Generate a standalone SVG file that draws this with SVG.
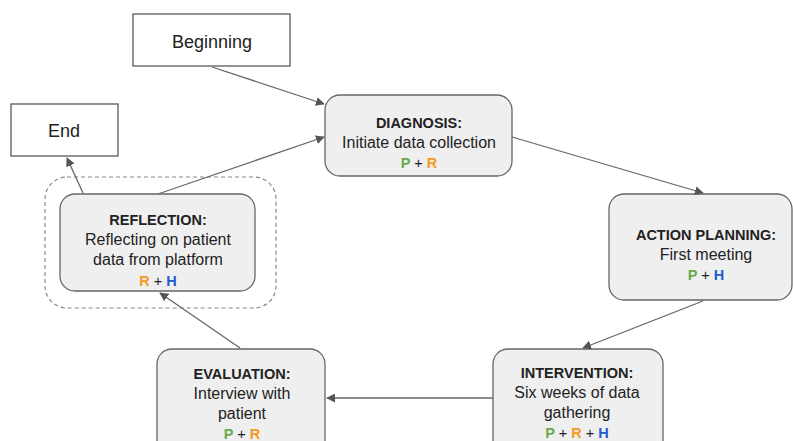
<svg xmlns="http://www.w3.org/2000/svg" width="793" height="441" viewBox="0 0 793 441">
<style>
.plain{fill:#fff;stroke:#595959;stroke-width:1.3}
.step{fill:#efefef;stroke:#666;stroke-width:1.3}
.lbl{font-family:"Liberation Sans",Arial,sans-serif;font-size:18px;fill:#222;text-anchor:middle}
.t{font-family:"Liberation Sans",Arial,sans-serif;font-size:16px;fill:#222;text-anchor:middle}
.b{font-weight:bold;font-size:14.5px}
.k{font-size:14.5px}
.P{fill:#6aa84f;font-weight:bold}
.R{fill:#f59a23;font-weight:bold}
.H{fill:#1f5bd1;font-weight:bold}
.conn line{stroke:#666;stroke-width:1.3;marker-end:url(#ah)}
</style>
<defs>
<marker id="ah" viewBox="0 0 10 10" refX="9" refY="5" markerWidth="9" markerHeight="9" markerUnits="userSpaceOnUse" orient="auto">
<path d="M0,0 L10,5 L0,10 z" fill="#555"/>
</marker>
</defs>
<rect width="793" height="441" fill="#fff"/>
<g id="group-reflection">
<rect x="45" y="177" width="231" height="131" rx="22" fill="none" stroke="#888" stroke-width="1.2" stroke-dasharray="4 3"/>
</g>
<g id="beginning">
<rect class="plain" x="133" y="14" width="157" height="52"/>
<text class="lbl" x="212" y="48">Beginning</text>
</g>
<g id="end">
<rect class="plain" x="11" y="104" width="107" height="52"/>
<text class="lbl" x="64" y="137">End</text>
</g>
<g id="diagnosis">
<rect class="step" x="325" y="95" width="187" height="81" rx="15"/>
<text class="t b" x="419" y="128">DIAGNOSIS:</text>
<text class="t" x="419" y="148">Initiate data collection</text>
<text class="t k" x="419" y="168"><tspan class="P">P</tspan> + <tspan class="R">R</tspan></text>
</g>
<g id="action-planning">
<rect class="step" x="609" y="194" width="183" height="106" rx="15"/>
<text class="t b" x="706" y="240">ACTION PLANNING:</text>
<text class="t" x="706" y="260">First meeting</text>
<text class="t k" x="706" y="280"><tspan class="P">P</tspan> + <tspan class="H">H</tspan></text>
</g>
<g id="intervention">
<rect class="step" x="493" y="349" width="170" height="110" rx="15"/>
<text class="t b" x="577" y="378">INTERVENTION:</text>
<text class="t" x="577" y="398">Six weeks of data</text>
<text class="t" x="577" y="418">gathering</text>
<text class="t k" x="577" y="438"><tspan class="P">P</tspan> + <tspan class="R">R</tspan> + <tspan class="H">H</tspan></text>
</g>
<g id="evaluation">
<rect class="step" x="157" y="349" width="168" height="110" rx="15"/>
<text class="t b" x="242" y="379">EVALUATION:</text>
<text class="t" x="242" y="399">Interview with</text>
<text class="t" x="242" y="419">patient</text>
<text class="t k" x="242" y="439"><tspan class="P">P</tspan> + <tspan class="R">R</tspan></text>
</g>
<g id="reflection">
<rect class="step" x="60" y="194" width="195" height="97" rx="15"/>
<text class="t b" x="158" y="225">REFLECTION:</text>
<text class="t" x="158" y="245">Reflecting on patient</text>
<text class="t" x="158" y="265">data from platform</text>
<text class="t k" x="158" y="286"><tspan class="R">R</tspan> + <tspan class="H">H</tspan></text>
</g>
<g class="conn" id="connectors">
<line x1="212" y1="67" x2="324" y2="104"/>
<line x1="158" y1="194" x2="324" y2="137"/>
<line x1="83" y1="193" x2="67" y2="158"/>
<line x1="512" y1="137" x2="703" y2="193"/>
<line x1="703" y1="301" x2="583" y2="348"/>
<line x1="493" y1="398" x2="327" y2="398"/>
<line x1="240" y1="348" x2="160" y2="293"/>
</g>
</svg>
